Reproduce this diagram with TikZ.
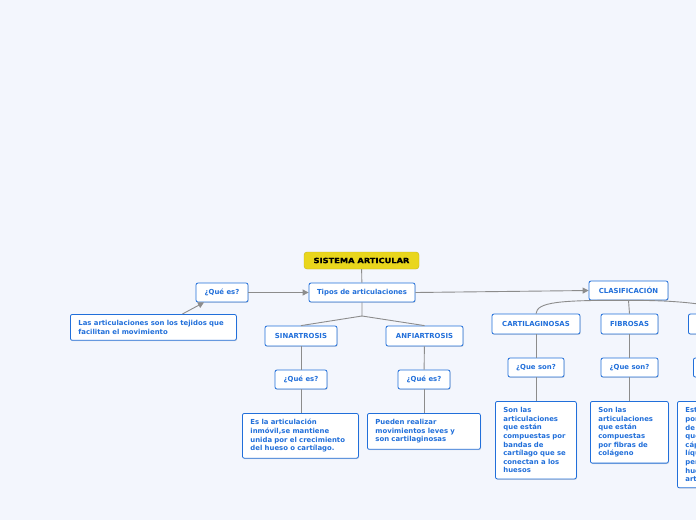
\documentclass[tikz,border=0pt]{standalone}
\usepackage{fontspec}
\setmainfont{DejaVu Sans}
\newfontfamily\heavyfont{DejaVu Sans}[FakeStretch=1.15,FakeBold=1.5]
\usepackage{tikz}
\usetikzlibrary{positioning, calc, shadows, arrows.meta}
\definecolor{fondo}{RGB}{243,246,253}
\definecolor{azul}{RGB}{33,111,218}
\definecolor{amarillo}{RGB}{233,214,28}
\definecolor{linea}{RGB}{140,140,140}

\tikzset{
  raiz/.style={fill=amarillo, draw=amarillo!85!black, line width=0.4pt, rounded corners=3pt,
    minimum width=115pt, minimum height=17pt, inner sep=2pt, text=black,
    font=\heavyfont\bfseries\fontsize{7.2}{8}\selectfont},
  tema/.style={draw=azul, line width=0.8pt, fill=white, rounded corners=2pt, text=azul,
    font=\fontsize{6.9}{8.6}\selectfont\bfseries, minimum height=19pt, inner xsep=4pt, inner ysep=2pt,
    drop shadow={shadow xshift=0.6pt, shadow yshift=-0.9pt, opacity=0.25}},
  texto/.style={tema, anchor=north west, align=left, text width=#1, inner xsep=8pt, inner ysep=6pt},
  link/.style={draw=linea, line width=0.9pt},
  arr/.style={link, -{Triangle[length=6pt, width=6pt]}}
}

\begin{document}
\begin{tikzpicture}[x=1pt, y=-1pt]
  \useasboundingbox[fill=fondo] (0,0) rectangle (696,520);
  \clip (0,0) rectangle (696,520);

  % Centre
  \node[raiz] (sistema) at (361.5,260.5) {SISTEMA ARTICULAR};
  \node[tema, minimum width=106pt] (tipos) at (362,292.5) {Tipos de articulaciones};
  \node[tema, minimum width=52pt] (quees) at (222,292.5) {¿Qué es?};
  \node[texto=150pt] (def) at (70,314) {Las articulaciones son los tejidos que\\facilitan el movimiento};

  % Tipos
  \node[tema, minimum width=72pt, minimum height=20pt] (sinar) at (301,336) {SINARTROSIS};
  \node[tema, minimum width=77pt, minimum height=20pt] (anfi) at (424.5,336) {ANFIARTROSIS};
  \foreach \n/\x in {qsin/301, qanf/424}
    \node[tema, minimum width=52pt] (\n) at (\x,379.5) {¿Qué es?};
  \node[texto=100pt] (tsin) at (242,413) {Es la articulación\\inmóvil,se mantiene\\unida por el crecimiento\\del hueso o cartílago.};
  \node[texto=97pt] (tanf) at (367,413) {Pueden realizar\\movimientos leves y\\son cartilaginosas};

  % Clasificacion
  \node[tema, minimum width=79pt] (clas) at (628.5,290.5) {CLASIFICACIÓN};
  \node[tema, minimum width=88pt, minimum height=20pt] (cart) at (536,324) {CARTILAGINOSAS};
  \node[tema, minimum width=57pt, minimum height=20pt] (fib) at (629.5,324) {FIBROSAS};
  \node[tema, minimum width=80pt, minimum height=20pt, anchor=west] (sino) at (688,324) {SINOVIALES};
  \node[tema, minimum width=56pt] (qcart) at (536,367.5) {¿Que son?};
  \node[tema, minimum width=57pt] (qfib) at (629.5,367.5) {¿Que son?};
  \node[tema, minimum width=57pt, anchor=west] (qsino) at (693,367.5) {¿Que son?};
  \node[texto=65pt] (tcart) at (495,401) {Son las\\articulaciones\\que están\\compuestas por\\bandas de\\cartílago que se\\conectan a los\\huesos};
  \node[texto=62pt] (tfib) at (590,401) {Son las\\articulaciones\\que están\\compuestas\\por fibras de\\colágeno};
  \node[texto=95pt] (tsino) at (677,401) {Están formadas\\por una cápsula\\de tejido fibroso\\que envuelve la\\cápsula articular;\\líquido sinovial\\permite mover los\\huesos de la\\articulación};

  % Conectores
  \coordinate (j1) at (362,316);
  \draw[link] (sistema) -- (tipos);
  \draw[arr] (quees) -- (tipos);
  \draw[arr] ([xshift=29pt]def.north) -- ([xshift=-18pt]quees.south);
  \draw[arr] (tipos.east) -- (clas.west);
  \draw[link] (tipos.south) -- (j1) -- (sinar.north);
  \draw[link] (j1) -- (anfi.north);
  \foreach \a/\b/\c in {sinar/qsin/tsin, anfi/qanf/tanf, cart/qcart/tcart, fib/qfib/tfib, sino/qsino/tsino} {
    \draw[link] (\a) -- (\b);
    \draw[link] (\b.south) -- (\b.south |- \c.north);
  }
  \draw[link] (clas.south) .. controls (560,300) and (537,302) .. (cart.north);
  \draw[link] (clas.south) -- (fib.north);
  \draw[link] (clas.south) .. controls (680,300) and (722,305) .. (sino.north);
\end{tikzpicture}
\end{document}
